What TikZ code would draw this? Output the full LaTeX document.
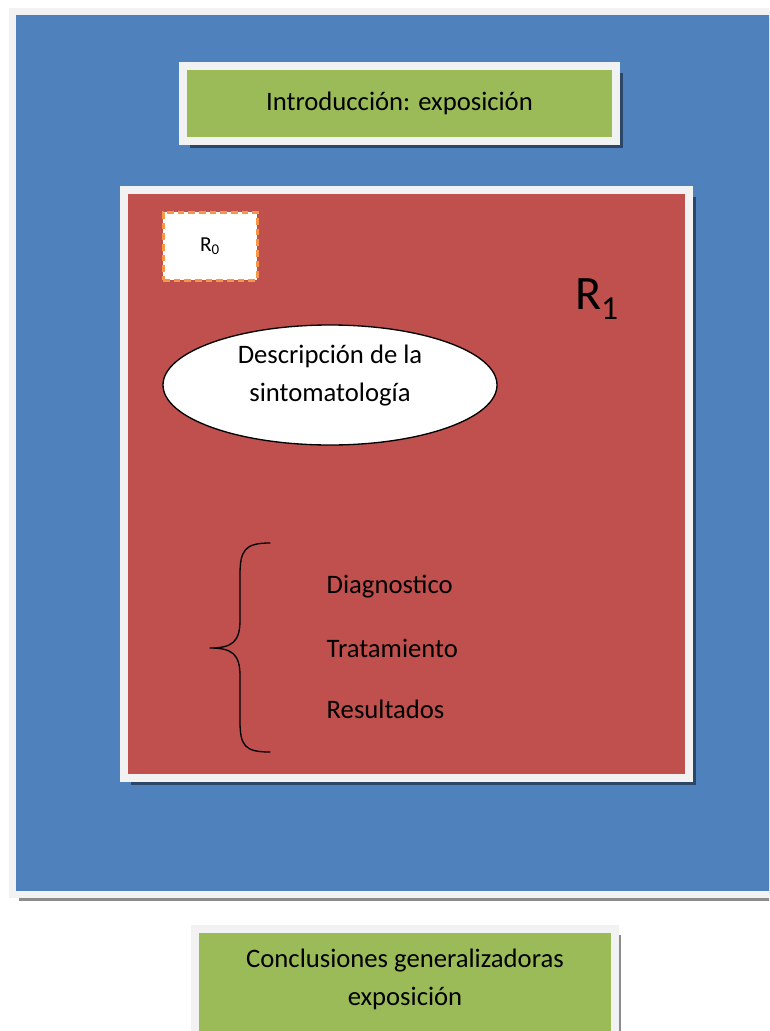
\documentclass[tikz,border=0pt]{standalone}
\usepackage{fontspec}
\setmainfont{Carlito}
\usetikzlibrary{shapes.geometric,shadows}
\definecolor{azul}{HTML}{4F81BD}
\definecolor{rojo}{HTML}{C0504D}
\definecolor{verde}{HTML}{9BBB59}
\definecolor{marco}{HTML}{F2F2F2}
\definecolor{naranja}{HTML}{F79646}
\begin{document}
\begin{tikzpicture}[x=0.75pt,y=-0.75pt,line join=miter,
  font=\fontsize{20}{28.5}\selectfont,
  caja/.style={draw=marco,line width=6pt,inner sep=0pt,
    drop shadow={shadow xshift=5pt,shadow yshift=-5pt,opacity=.45,fill=black}},
  elipse/.style={ellipse,draw,fill=white,line width=1pt,inner sep=0pt,
    minimum width=250.5pt,minimum height=90pt}]
\clip (0,0) rectangle (769,1031);
\fill[white] (0,0) rectangle (769,1031);
\node[caja,fill=azul,line width=5.25pt,minimum width=583pt,minimum height=662.6pt] (fondo) at (401.25,452.75) {};
\node[caja,fill=verde,minimum width=324.75pt,minimum height=56.25pt] (intro) at (399.5,103.5) {Introducción: exposición};
\node[caja,fill=rojo,minimum width=423.75pt,minimum height=441pt] (r1) at (406.5,484) {};
\node[draw=naranja,fill=white,line width=2.25pt,dash pattern=on 5pt off 3pt,minimum width=70.5pt,minimum height=51pt,
  font=\fontsize{16}{18}\selectfont] (r0) at (210,246) {R\textsubscript{0}};
\node[font=\fontsize{36}{40}\selectfont] (rt) at (597,299) {R\textsubscript{1}};
\node[elipse] (sint) at (330,385) {};
\node[align=center] (sinttxt) at (330,376) {Descripción de la\\sintomatología};
\draw[line width=1pt,line cap=round,line join=round] (270,543) .. controls (245,543) and (240,550) .. (240,575) -- (240,620)
  .. controls (240,642) and (232,648) .. (210,648)
  .. controls (232,648) and (240,654) .. (240,676) -- (240,721)
  .. controls (240,746) and (245,752) .. (270,752);
\node[anchor=west] (diag) at (322,587) {Diagnostico};
\node[anchor=west] (trat) at (322,648) {Tratamiento};
\node[anchor=west] (res) at (322,709) {Resultados};
\node[caja,fill=verde,minimum width=314.6pt,minimum height=84pt] (concl) at (405,984.5) {};
\node[align=center] (concltxt) at (405,979) {Conclusiones generalizadoras\\exposición};
\end{tikzpicture}
\end{document}
